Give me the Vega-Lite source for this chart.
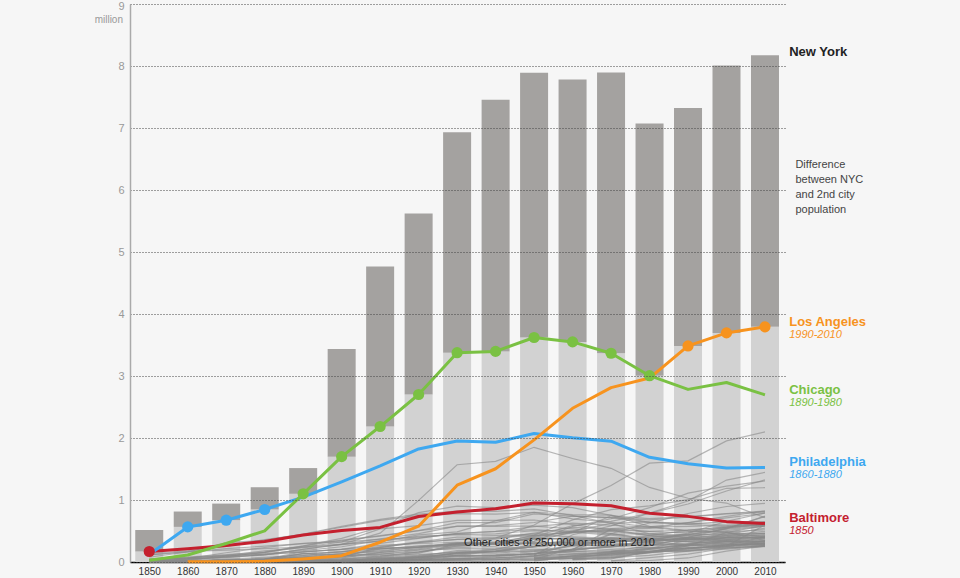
{
"$schema":"https://vega.github.io/schema/vega-lite/v6.json",
"width":655,"height":558,"autosize":"none",
"padding":{"left":130,"top":4,"right":175,"bottom":16},
"background":"#f6f6f6",
"config":{"view":{"stroke":null},"font":"Liberation Sans"},
"datasets":{
"b":[{"yr":1850,"n":0.516,"s":0.169},{"yr":1860,"n":0.814,"s":0.566},{"yr":1870,"n":0.942,"s":0.674},{"yr":1880,"n":1.206,"s":0.847},{"yr":1890,"n":1.515,"s":1.1},{"yr":1900,"n":3.437,"s":1.699},{"yr":1910,"n":4.767,"s":2.185},{"yr":1920,"n":5.62,"s":2.702},{"yr":1930,"n":6.93,"s":3.376},{"yr":1940,"n":7.455,"s":3.397},{"yr":1950,"n":7.892,"s":3.621},{"yr":1960,"n":7.782,"s":3.55},{"yr":1970,"n":7.895,"s":3.367},{"yr":1980,"n":7.072,"s":3.005},{"yr":1990,"n":7.323,"s":3.485},{"yr":2000,"n":8.008,"s":3.695},{"yr":2010,"n":8.175,"s":3.793}],
"per":[{"c":"Los Angeles","t":"1990-2010"},{"c":"Chicago","t":"1890-1980"},{"c":"Philadelphia","t":"1860-1880"},{"c":"Baltimore","t":"1850"}],
"note":[{"k":"x"}],
"m":[
{"c":"Baltimore","yr":1850,"p":0.169},{"c":"Baltimore","yr":1860,"p":0.212},{"c":"Baltimore","yr":1870,"p":0.267},{"c":"Baltimore","yr":1880,"p":0.332},{"c":"Baltimore","yr":1890,"p":0.434},{"c":"Baltimore","yr":1900,"p":0.509},{"c":"Baltimore","yr":1910,"p":0.558},{"c":"Baltimore","yr":1920,"p":0.734},{"c":"Baltimore","yr":1930,"p":0.805},{"c":"Baltimore","yr":1940,"p":0.859},{"c":"Baltimore","yr":1950,"p":0.95},{"c":"Baltimore","yr":1960,"p":0.939},{"c":"Baltimore","yr":1970,"p":0.906},{"c":"Baltimore","yr":1980,"p":0.787},{"c":"Baltimore","yr":1990,"p":0.736},{"c":"Baltimore","yr":2000,"p":0.651},{"c":"Baltimore","yr":2010,"p":0.621},
{"c":"Philadelphia","yr":1850,"p":0.121},{"c":"Philadelphia","yr":1860,"p":0.566},{"c":"Philadelphia","yr":1870,"p":0.674},{"c":"Philadelphia","yr":1880,"p":0.847},{"c":"Philadelphia","yr":1890,"p":1.047},{"c":"Philadelphia","yr":1900,"p":1.294},{"c":"Philadelphia","yr":1910,"p":1.549},{"c":"Philadelphia","yr":1920,"p":1.824},{"c":"Philadelphia","yr":1930,"p":1.951},{"c":"Philadelphia","yr":1940,"p":1.931},{"c":"Philadelphia","yr":1950,"p":2.072},{"c":"Philadelphia","yr":1960,"p":2.003},{"c":"Philadelphia","yr":1970,"p":1.949},{"c":"Philadelphia","yr":1980,"p":1.688},{"c":"Philadelphia","yr":1990,"p":1.586},{"c":"Philadelphia","yr":2000,"p":1.518},{"c":"Philadelphia","yr":2010,"p":1.526},
{"c":"Chicago","yr":1850,"p":0.03},{"c":"Chicago","yr":1860,"p":0.112},{"c":"Chicago","yr":1870,"p":0.299},{"c":"Chicago","yr":1880,"p":0.503},{"c":"Chicago","yr":1890,"p":1.1},{"c":"Chicago","yr":1900,"p":1.699},{"c":"Chicago","yr":1910,"p":2.185},{"c":"Chicago","yr":1920,"p":2.702},{"c":"Chicago","yr":1930,"p":3.376},{"c":"Chicago","yr":1940,"p":3.397},{"c":"Chicago","yr":1950,"p":3.621},{"c":"Chicago","yr":1960,"p":3.55},{"c":"Chicago","yr":1970,"p":3.367},{"c":"Chicago","yr":1980,"p":3.005},{"c":"Chicago","yr":1990,"p":2.784},{"c":"Chicago","yr":2000,"p":2.896},{"c":"Chicago","yr":2010,"p":2.696},
{"c":"Los Angeles","yr":1860,"p":0.004},{"c":"Los Angeles","yr":1870,"p":0.006},{"c":"Los Angeles","yr":1880,"p":0.011},{"c":"Los Angeles","yr":1890,"p":0.05},{"c":"Los Angeles","yr":1900,"p":0.102},{"c":"Los Angeles","yr":1910,"p":0.319},{"c":"Los Angeles","yr":1920,"p":0.577},{"c":"Los Angeles","yr":1930,"p":1.238},{"c":"Los Angeles","yr":1940,"p":1.504},{"c":"Los Angeles","yr":1950,"p":1.97},{"c":"Los Angeles","yr":1960,"p":2.479},{"c":"Los Angeles","yr":1970,"p":2.812},{"c":"Los Angeles","yr":1980,"p":2.967},{"c":"Los Angeles","yr":1990,"p":3.485},{"c":"Los Angeles","yr":2000,"p":3.695},{"c":"Los Angeles","yr":2010,"p":3.793}],
"o":[
{"c":"Houston","yr":1850,"p":0.002},{"c":"Houston","yr":1860,"p":0.005},{"c":"Houston","yr":1870,"p":0.009},{"c":"Houston","yr":1880,"p":0.017},{"c":"Houston","yr":1890,"p":0.028},{"c":"Houston","yr":1900,"p":0.045},{"c":"Houston","yr":1910,"p":0.079},{"c":"Houston","yr":1920,"p":0.138},{"c":"Houston","yr":1930,"p":0.292},{"c":"Houston","yr":1940,"p":0.385},{"c":"Houston","yr":1950,"p":0.596},{"c":"Houston","yr":1960,"p":0.938},{"c":"Houston","yr":1970,"p":1.233},{"c":"Houston","yr":1980,"p":1.595},{"c":"Houston","yr":1990,"p":1.631},{"c":"Houston","yr":2000,"p":1.954},{"c":"Houston","yr":2010,"p":2.099},
{"c":"Detroit","yr":1850,"p":0.021},{"c":"Detroit","yr":1860,"p":0.046},{"c":"Detroit","yr":1870,"p":0.08},{"c":"Detroit","yr":1880,"p":0.116},{"c":"Detroit","yr":1890,"p":0.206},{"c":"Detroit","yr":1900,"p":0.286},{"c":"Detroit","yr":1910,"p":0.466},{"c":"Detroit","yr":1920,"p":0.994},{"c":"Detroit","yr":1930,"p":1.569},{"c":"Detroit","yr":1940,"p":1.623},{"c":"Detroit","yr":1950,"p":1.85},{"c":"Detroit","yr":1960,"p":1.67},{"c":"Detroit","yr":1970,"p":1.511},{"c":"Detroit","yr":1980,"p":1.203},{"c":"Detroit","yr":1990,"p":1.028},{"c":"Detroit","yr":2000,"p":0.951},{"c":"Detroit","yr":2010,"p":0.714},
{"c":"Phoenix","yr":1880,"p":0.002},{"c":"Phoenix","yr":1890,"p":0.003},{"c":"Phoenix","yr":1900,"p":0.006},{"c":"Phoenix","yr":1910,"p":0.011},{"c":"Phoenix","yr":1920,"p":0.029},{"c":"Phoenix","yr":1930,"p":0.048},{"c":"Phoenix","yr":1940,"p":0.065},{"c":"Phoenix","yr":1950,"p":0.107},{"c":"Phoenix","yr":1960,"p":0.439},{"c":"Phoenix","yr":1970,"p":0.582},{"c":"Phoenix","yr":1980,"p":0.79},{"c":"Phoenix","yr":1990,"p":0.983},{"c":"Phoenix","yr":2000,"p":1.321},{"c":"Phoenix","yr":2010,"p":1.446},
{"c":"San Antonio","yr":1850,"p":0.003},{"c":"San Antonio","yr":1860,"p":0.008},{"c":"San Antonio","yr":1870,"p":0.012},{"c":"San Antonio","yr":1880,"p":0.021},{"c":"San Antonio","yr":1890,"p":0.038},{"c":"San Antonio","yr":1900,"p":0.053},{"c":"San Antonio","yr":1910,"p":0.097},{"c":"San Antonio","yr":1920,"p":0.161},{"c":"San Antonio","yr":1930,"p":0.232},{"c":"San Antonio","yr":1940,"p":0.254},{"c":"San Antonio","yr":1950,"p":0.408},{"c":"San Antonio","yr":1960,"p":0.588},{"c":"San Antonio","yr":1970,"p":0.654},{"c":"San Antonio","yr":1980,"p":0.786},{"c":"San Antonio","yr":1990,"p":0.936},{"c":"San Antonio","yr":2000,"p":1.145},{"c":"San Antonio","yr":2010,"p":1.327},
{"c":"San Diego","yr":1850,"p":0.001},{"c":"San Diego","yr":1860,"p":0.001},{"c":"San Diego","yr":1870,"p":0.002},{"c":"San Diego","yr":1880,"p":0.003},{"c":"San Diego","yr":1890,"p":0.016},{"c":"San Diego","yr":1900,"p":0.018},{"c":"San Diego","yr":1910,"p":0.04},{"c":"San Diego","yr":1920,"p":0.074},{"c":"San Diego","yr":1930,"p":0.148},{"c":"San Diego","yr":1940,"p":0.203},{"c":"San Diego","yr":1950,"p":0.334},{"c":"San Diego","yr":1960,"p":0.573},{"c":"San Diego","yr":1970,"p":0.697},{"c":"San Diego","yr":1980,"p":0.876},{"c":"San Diego","yr":1990,"p":1.111},{"c":"San Diego","yr":2000,"p":1.223},{"c":"San Diego","yr":2010,"p":1.307},
{"c":"Dallas","yr":1860,"p":0.001},{"c":"Dallas","yr":1870,"p":0.003},{"c":"Dallas","yr":1880,"p":0.01},{"c":"Dallas","yr":1890,"p":0.038},{"c":"Dallas","yr":1900,"p":0.043},{"c":"Dallas","yr":1910,"p":0.092},{"c":"Dallas","yr":1920,"p":0.159},{"c":"Dallas","yr":1930,"p":0.26},{"c":"Dallas","yr":1940,"p":0.295},{"c":"Dallas","yr":1950,"p":0.434},{"c":"Dallas","yr":1960,"p":0.68},{"c":"Dallas","yr":1970,"p":0.844},{"c":"Dallas","yr":1980,"p":0.904},{"c":"Dallas","yr":1990,"p":1.007},{"c":"Dallas","yr":2000,"p":1.189},{"c":"Dallas","yr":2010,"p":1.198},
{"c":"San Jose","yr":1850,"p":0.003},{"c":"San Jose","yr":1860,"p":0.005},{"c":"San Jose","yr":1870,"p":0.009},{"c":"San Jose","yr":1880,"p":0.013},{"c":"San Jose","yr":1890,"p":0.018},{"c":"San Jose","yr":1900,"p":0.022},{"c":"San Jose","yr":1910,"p":0.029},{"c":"San Jose","yr":1920,"p":0.04},{"c":"San Jose","yr":1930,"p":0.058},{"c":"San Jose","yr":1940,"p":0.068},{"c":"San Jose","yr":1950,"p":0.095},{"c":"San Jose","yr":1960,"p":0.204},{"c":"San Jose","yr":1970,"p":0.46},{"c":"San Jose","yr":1980,"p":0.629},{"c":"San Jose","yr":1990,"p":0.782},{"c":"San Jose","yr":2000,"p":0.895},{"c":"San Jose","yr":2010,"p":0.946},
{"c":"Jacksonville","yr":1850,"p":0.001},{"c":"Jacksonville","yr":1860,"p":0.002},{"c":"Jacksonville","yr":1870,"p":0.007},{"c":"Jacksonville","yr":1880,"p":0.008},{"c":"Jacksonville","yr":1890,"p":0.017},{"c":"Jacksonville","yr":1900,"p":0.028},{"c":"Jacksonville","yr":1910,"p":0.058},{"c":"Jacksonville","yr":1920,"p":0.092},{"c":"Jacksonville","yr":1930,"p":0.13},{"c":"Jacksonville","yr":1940,"p":0.173},{"c":"Jacksonville","yr":1950,"p":0.205},{"c":"Jacksonville","yr":1960,"p":0.201},{"c":"Jacksonville","yr":1970,"p":0.529},{"c":"Jacksonville","yr":1980,"p":0.541},{"c":"Jacksonville","yr":1990,"p":0.635},{"c":"Jacksonville","yr":2000,"p":0.736},{"c":"Jacksonville","yr":2010,"p":0.822},
{"c":"Indianapolis","yr":1850,"p":0.008},{"c":"Indianapolis","yr":1860,"p":0.019},{"c":"Indianapolis","yr":1870,"p":0.048},{"c":"Indianapolis","yr":1880,"p":0.075},{"c":"Indianapolis","yr":1890,"p":0.105},{"c":"Indianapolis","yr":1900,"p":0.169},{"c":"Indianapolis","yr":1910,"p":0.234},{"c":"Indianapolis","yr":1920,"p":0.314},{"c":"Indianapolis","yr":1930,"p":0.364},{"c":"Indianapolis","yr":1940,"p":0.387},{"c":"Indianapolis","yr":1950,"p":0.427},{"c":"Indianapolis","yr":1960,"p":0.476},{"c":"Indianapolis","yr":1970,"p":0.745},{"c":"Indianapolis","yr":1980,"p":0.701},{"c":"Indianapolis","yr":1990,"p":0.731},{"c":"Indianapolis","yr":2000,"p":0.782},{"c":"Indianapolis","yr":2010,"p":0.82},
{"c":"San Francisco","yr":1850,"p":0.035},{"c":"San Francisco","yr":1860,"p":0.057},{"c":"San Francisco","yr":1870,"p":0.149},{"c":"San Francisco","yr":1880,"p":0.234},{"c":"San Francisco","yr":1890,"p":0.299},{"c":"San Francisco","yr":1900,"p":0.343},{"c":"San Francisco","yr":1910,"p":0.417},{"c":"San Francisco","yr":1920,"p":0.507},{"c":"San Francisco","yr":1930,"p":0.634},{"c":"San Francisco","yr":1940,"p":0.635},{"c":"San Francisco","yr":1950,"p":0.775},{"c":"San Francisco","yr":1960,"p":0.74},{"c":"San Francisco","yr":1970,"p":0.716},{"c":"San Francisco","yr":1980,"p":0.679},{"c":"San Francisco","yr":1990,"p":0.724},{"c":"San Francisco","yr":2000,"p":0.777},{"c":"San Francisco","yr":2010,"p":0.805},
{"c":"Austin","yr":1850,"p":0.001},{"c":"Austin","yr":1860,"p":0.003},{"c":"Austin","yr":1870,"p":0.004},{"c":"Austin","yr":1880,"p":0.011},{"c":"Austin","yr":1890,"p":0.015},{"c":"Austin","yr":1900,"p":0.022},{"c":"Austin","yr":1910,"p":0.03},{"c":"Austin","yr":1920,"p":0.035},{"c":"Austin","yr":1930,"p":0.053},{"c":"Austin","yr":1940,"p":0.088},{"c":"Austin","yr":1950,"p":0.132},{"c":"Austin","yr":1960,"p":0.187},{"c":"Austin","yr":1970,"p":0.252},{"c":"Austin","yr":1980,"p":0.345},{"c":"Austin","yr":1990,"p":0.466},{"c":"Austin","yr":2000,"p":0.657},{"c":"Austin","yr":2010,"p":0.79},
{"c":"Columbus","yr":1850,"p":0.018},{"c":"Columbus","yr":1860,"p":0.019},{"c":"Columbus","yr":1870,"p":0.031},{"c":"Columbus","yr":1880,"p":0.052},{"c":"Columbus","yr":1890,"p":0.088},{"c":"Columbus","yr":1900,"p":0.126},{"c":"Columbus","yr":1910,"p":0.182},{"c":"Columbus","yr":1920,"p":0.237},{"c":"Columbus","yr":1930,"p":0.291},{"c":"Columbus","yr":1940,"p":0.306},{"c":"Columbus","yr":1950,"p":0.376},{"c":"Columbus","yr":1960,"p":0.471},{"c":"Columbus","yr":1970,"p":0.54},{"c":"Columbus","yr":1980,"p":0.565},{"c":"Columbus","yr":1990,"p":0.633},{"c":"Columbus","yr":2000,"p":0.711},{"c":"Columbus","yr":2010,"p":0.787},
{"c":"Fort Worth","yr":1880,"p":0.007},{"c":"Fort Worth","yr":1890,"p":0.023},{"c":"Fort Worth","yr":1900,"p":0.027},{"c":"Fort Worth","yr":1910,"p":0.073},{"c":"Fort Worth","yr":1920,"p":0.106},{"c":"Fort Worth","yr":1930,"p":0.163},{"c":"Fort Worth","yr":1940,"p":0.178},{"c":"Fort Worth","yr":1950,"p":0.279},{"c":"Fort Worth","yr":1960,"p":0.356},{"c":"Fort Worth","yr":1970,"p":0.393},{"c":"Fort Worth","yr":1980,"p":0.385},{"c":"Fort Worth","yr":1990,"p":0.448},{"c":"Fort Worth","yr":2000,"p":0.535},{"c":"Fort Worth","yr":2010,"p":0.741},
{"c":"Charlotte","yr":1850,"p":0.001},{"c":"Charlotte","yr":1860,"p":0.002},{"c":"Charlotte","yr":1870,"p":0.004},{"c":"Charlotte","yr":1880,"p":0.007},{"c":"Charlotte","yr":1890,"p":0.012},{"c":"Charlotte","yr":1900,"p":0.018},{"c":"Charlotte","yr":1910,"p":0.034},{"c":"Charlotte","yr":1920,"p":0.046},{"c":"Charlotte","yr":1930,"p":0.083},{"c":"Charlotte","yr":1940,"p":0.101},{"c":"Charlotte","yr":1950,"p":0.134},{"c":"Charlotte","yr":1960,"p":0.202},{"c":"Charlotte","yr":1970,"p":0.241},{"c":"Charlotte","yr":1980,"p":0.314},{"c":"Charlotte","yr":1990,"p":0.396},{"c":"Charlotte","yr":2000,"p":0.541},{"c":"Charlotte","yr":2010,"p":0.731},
{"c":"El Paso","yr":1880,"p":0.001},{"c":"El Paso","yr":1890,"p":0.01},{"c":"El Paso","yr":1900,"p":0.016},{"c":"El Paso","yr":1910,"p":0.039},{"c":"El Paso","yr":1920,"p":0.078},{"c":"El Paso","yr":1930,"p":0.102},{"c":"El Paso","yr":1940,"p":0.097},{"c":"El Paso","yr":1950,"p":0.13},{"c":"El Paso","yr":1960,"p":0.277},{"c":"El Paso","yr":1970,"p":0.322},{"c":"El Paso","yr":1980,"p":0.425},{"c":"El Paso","yr":1990,"p":0.515},{"c":"El Paso","yr":2000,"p":0.564},{"c":"El Paso","yr":2010,"p":0.649},
{"c":"Memphis","yr":1850,"p":0.009},{"c":"Memphis","yr":1860,"p":0.023},{"c":"Memphis","yr":1870,"p":0.04},{"c":"Memphis","yr":1880,"p":0.034},{"c":"Memphis","yr":1890,"p":0.064},{"c":"Memphis","yr":1900,"p":0.102},{"c":"Memphis","yr":1910,"p":0.131},{"c":"Memphis","yr":1920,"p":0.162},{"c":"Memphis","yr":1930,"p":0.253},{"c":"Memphis","yr":1940,"p":0.293},{"c":"Memphis","yr":1950,"p":0.396},{"c":"Memphis","yr":1960,"p":0.498},{"c":"Memphis","yr":1970,"p":0.624},{"c":"Memphis","yr":1980,"p":0.646},{"c":"Memphis","yr":1990,"p":0.61},{"c":"Memphis","yr":2000,"p":0.65},{"c":"Memphis","yr":2010,"p":0.647},
{"c":"Boston","yr":1850,"p":0.137},{"c":"Boston","yr":1860,"p":0.178},{"c":"Boston","yr":1870,"p":0.251},{"c":"Boston","yr":1880,"p":0.363},{"c":"Boston","yr":1890,"p":0.448},{"c":"Boston","yr":1900,"p":0.561},{"c":"Boston","yr":1910,"p":0.671},{"c":"Boston","yr":1920,"p":0.748},{"c":"Boston","yr":1930,"p":0.781},{"c":"Boston","yr":1940,"p":0.771},{"c":"Boston","yr":1950,"p":0.801},{"c":"Boston","yr":1960,"p":0.697},{"c":"Boston","yr":1970,"p":0.641},{"c":"Boston","yr":1980,"p":0.563},{"c":"Boston","yr":1990,"p":0.574},{"c":"Boston","yr":2000,"p":0.589},{"c":"Boston","yr":2010,"p":0.618},
{"c":"Seattle","yr":1870,"p":0.001},{"c":"Seattle","yr":1880,"p":0.004},{"c":"Seattle","yr":1890,"p":0.043},{"c":"Seattle","yr":1900,"p":0.081},{"c":"Seattle","yr":1910,"p":0.237},{"c":"Seattle","yr":1920,"p":0.315},{"c":"Seattle","yr":1930,"p":0.366},{"c":"Seattle","yr":1940,"p":0.368},{"c":"Seattle","yr":1950,"p":0.468},{"c":"Seattle","yr":1960,"p":0.557},{"c":"Seattle","yr":1970,"p":0.531},{"c":"Seattle","yr":1980,"p":0.494},{"c":"Seattle","yr":1990,"p":0.516},{"c":"Seattle","yr":2000,"p":0.563},{"c":"Seattle","yr":2010,"p":0.609},
{"c":"Denver","yr":1860,"p":0.005},{"c":"Denver","yr":1870,"p":0.005},{"c":"Denver","yr":1880,"p":0.036},{"c":"Denver","yr":1890,"p":0.107},{"c":"Denver","yr":1900,"p":0.134},{"c":"Denver","yr":1910,"p":0.213},{"c":"Denver","yr":1920,"p":0.256},{"c":"Denver","yr":1930,"p":0.288},{"c":"Denver","yr":1940,"p":0.322},{"c":"Denver","yr":1950,"p":0.416},{"c":"Denver","yr":1960,"p":0.494},{"c":"Denver","yr":1970,"p":0.515},{"c":"Denver","yr":1980,"p":0.492},{"c":"Denver","yr":1990,"p":0.468},{"c":"Denver","yr":2000,"p":0.555},{"c":"Denver","yr":2010,"p":0.6},
{"c":"Washington","yr":1850,"p":0.04},{"c":"Washington","yr":1860,"p":0.061},{"c":"Washington","yr":1870,"p":0.109},{"c":"Washington","yr":1880,"p":0.178},{"c":"Washington","yr":1890,"p":0.23},{"c":"Washington","yr":1900,"p":0.279},{"c":"Washington","yr":1910,"p":0.331},{"c":"Washington","yr":1920,"p":0.438},{"c":"Washington","yr":1930,"p":0.487},{"c":"Washington","yr":1940,"p":0.663},{"c":"Washington","yr":1950,"p":0.802},{"c":"Washington","yr":1960,"p":0.764},{"c":"Washington","yr":1970,"p":0.757},{"c":"Washington","yr":1980,"p":0.638},{"c":"Washington","yr":1990,"p":0.607},{"c":"Washington","yr":2000,"p":0.572},{"c":"Washington","yr":2010,"p":0.602},
{"c":"Nashville","yr":1850,"p":0.01},{"c":"Nashville","yr":1860,"p":0.017},{"c":"Nashville","yr":1870,"p":0.026},{"c":"Nashville","yr":1880,"p":0.043},{"c":"Nashville","yr":1890,"p":0.076},{"c":"Nashville","yr":1900,"p":0.081},{"c":"Nashville","yr":1910,"p":0.11},{"c":"Nashville","yr":1920,"p":0.118},{"c":"Nashville","yr":1930,"p":0.154},{"c":"Nashville","yr":1940,"p":0.167},{"c":"Nashville","yr":1950,"p":0.174},{"c":"Nashville","yr":1960,"p":0.171},{"c":"Nashville","yr":1970,"p":0.448},{"c":"Nashville","yr":1980,"p":0.456},{"c":"Nashville","yr":1990,"p":0.488},{"c":"Nashville","yr":2000,"p":0.546},{"c":"Nashville","yr":2010,"p":0.601},
{"c":"Louisville","yr":1850,"p":0.043},{"c":"Louisville","yr":1860,"p":0.068},{"c":"Louisville","yr":1870,"p":0.101},{"c":"Louisville","yr":1880,"p":0.124},{"c":"Louisville","yr":1890,"p":0.161},{"c":"Louisville","yr":1900,"p":0.205},{"c":"Louisville","yr":1910,"p":0.224},{"c":"Louisville","yr":1920,"p":0.235},{"c":"Louisville","yr":1930,"p":0.308},{"c":"Louisville","yr":1940,"p":0.319},{"c":"Louisville","yr":1950,"p":0.369},{"c":"Louisville","yr":1960,"p":0.391},{"c":"Louisville","yr":1970,"p":0.361},{"c":"Louisville","yr":1980,"p":0.298},{"c":"Louisville","yr":1990,"p":0.269},{"c":"Louisville","yr":2000,"p":0.256},{"c":"Louisville","yr":2010,"p":0.597},
{"c":"Milwaukee","yr":1850,"p":0.02},{"c":"Milwaukee","yr":1860,"p":0.045},{"c":"Milwaukee","yr":1870,"p":0.071},{"c":"Milwaukee","yr":1880,"p":0.116},{"c":"Milwaukee","yr":1890,"p":0.204},{"c":"Milwaukee","yr":1900,"p":0.285},{"c":"Milwaukee","yr":1910,"p":0.374},{"c":"Milwaukee","yr":1920,"p":0.457},{"c":"Milwaukee","yr":1930,"p":0.578},{"c":"Milwaukee","yr":1940,"p":0.587},{"c":"Milwaukee","yr":1950,"p":0.637},{"c":"Milwaukee","yr":1960,"p":0.741},{"c":"Milwaukee","yr":1970,"p":0.717},{"c":"Milwaukee","yr":1980,"p":0.636},{"c":"Milwaukee","yr":1990,"p":0.628},{"c":"Milwaukee","yr":2000,"p":0.597},{"c":"Milwaukee","yr":2010,"p":0.595},
{"c":"Portland","yr":1850,"p":0.001},{"c":"Portland","yr":1860,"p":0.003},{"c":"Portland","yr":1870,"p":0.008},{"c":"Portland","yr":1880,"p":0.018},{"c":"Portland","yr":1890,"p":0.046},{"c":"Portland","yr":1900,"p":0.09},{"c":"Portland","yr":1910,"p":0.207},{"c":"Portland","yr":1920,"p":0.258},{"c":"Portland","yr":1930,"p":0.302},{"c":"Portland","yr":1940,"p":0.305},{"c":"Portland","yr":1950,"p":0.374},{"c":"Portland","yr":1960,"p":0.373},{"c":"Portland","yr":1970,"p":0.383},{"c":"Portland","yr":1980,"p":0.366},{"c":"Portland","yr":1990,"p":0.437},{"c":"Portland","yr":2000,"p":0.529},{"c":"Portland","yr":2010,"p":0.584},
{"c":"Las Vegas","yr":1910,"p":0.001},{"c":"Las Vegas","yr":1920,"p":0.002},{"c":"Las Vegas","yr":1930,"p":0.005},{"c":"Las Vegas","yr":1940,"p":0.008},{"c":"Las Vegas","yr":1950,"p":0.025},{"c":"Las Vegas","yr":1960,"p":0.064},{"c":"Las Vegas","yr":1970,"p":0.126},{"c":"Las Vegas","yr":1980,"p":0.165},{"c":"Las Vegas","yr":1990,"p":0.258},{"c":"Las Vegas","yr":2000,"p":0.478},{"c":"Las Vegas","yr":2010,"p":0.584},
{"c":"Oklahoma City","yr":1890,"p":0.004},{"c":"Oklahoma City","yr":1900,"p":0.01},{"c":"Oklahoma City","yr":1910,"p":0.064},{"c":"Oklahoma City","yr":1920,"p":0.091},{"c":"Oklahoma City","yr":1930,"p":0.185},{"c":"Oklahoma City","yr":1940,"p":0.204},{"c":"Oklahoma City","yr":1950,"p":0.244},{"c":"Oklahoma City","yr":1960,"p":0.324},{"c":"Oklahoma City","yr":1970,"p":0.366},{"c":"Oklahoma City","yr":1980,"p":0.404},{"c":"Oklahoma City","yr":1990,"p":0.445},{"c":"Oklahoma City","yr":2000,"p":0.506},{"c":"Oklahoma City","yr":2010,"p":0.58},
{"c":"Albuquerque","yr":1880,"p":0.002},{"c":"Albuquerque","yr":1890,"p":0.004},{"c":"Albuquerque","yr":1900,"p":0.006},{"c":"Albuquerque","yr":1910,"p":0.011},{"c":"Albuquerque","yr":1920,"p":0.015},{"c":"Albuquerque","yr":1930,"p":0.027},{"c":"Albuquerque","yr":1940,"p":0.035},{"c":"Albuquerque","yr":1950,"p":0.097},{"c":"Albuquerque","yr":1960,"p":0.201},{"c":"Albuquerque","yr":1970,"p":0.245},{"c":"Albuquerque","yr":1980,"p":0.333},{"c":"Albuquerque","yr":1990,"p":0.385},{"c":"Albuquerque","yr":2000,"p":0.449},{"c":"Albuquerque","yr":2010,"p":0.546},
{"c":"Tucson","yr":1880,"p":0.007},{"c":"Tucson","yr":1890,"p":0.005},{"c":"Tucson","yr":1900,"p":0.008},{"c":"Tucson","yr":1910,"p":0.013},{"c":"Tucson","yr":1920,"p":0.02},{"c":"Tucson","yr":1930,"p":0.033},{"c":"Tucson","yr":1940,"p":0.036},{"c":"Tucson","yr":1950,"p":0.045},{"c":"Tucson","yr":1960,"p":0.213},{"c":"Tucson","yr":1970,"p":0.263},{"c":"Tucson","yr":1980,"p":0.331},{"c":"Tucson","yr":1990,"p":0.405},{"c":"Tucson","yr":2000,"p":0.487},{"c":"Tucson","yr":2010,"p":0.52},
{"c":"Fresno","yr":1890,"p":0.011},{"c":"Fresno","yr":1900,"p":0.012},{"c":"Fresno","yr":1910,"p":0.025},{"c":"Fresno","yr":1920,"p":0.045},{"c":"Fresno","yr":1930,"p":0.053},{"c":"Fresno","yr":1940,"p":0.061},{"c":"Fresno","yr":1950,"p":0.092},{"c":"Fresno","yr":1960,"p":0.134},{"c":"Fresno","yr":1970,"p":0.166},{"c":"Fresno","yr":1980,"p":0.218},{"c":"Fresno","yr":1990,"p":0.354},{"c":"Fresno","yr":2000,"p":0.428},{"c":"Fresno","yr":2010,"p":0.495},
{"c":"Sacramento","yr":1850,"p":0.007},{"c":"Sacramento","yr":1860,"p":0.014},{"c":"Sacramento","yr":1870,"p":0.016},{"c":"Sacramento","yr":1880,"p":0.021},{"c":"Sacramento","yr":1890,"p":0.026},{"c":"Sacramento","yr":1900,"p":0.029},{"c":"Sacramento","yr":1910,"p":0.045},{"c":"Sacramento","yr":1920,"p":0.066},{"c":"Sacramento","yr":1930,"p":0.094},{"c":"Sacramento","yr":1940,"p":0.106},{"c":"Sacramento","yr":1950,"p":0.138},{"c":"Sacramento","yr":1960,"p":0.192},{"c":"Sacramento","yr":1970,"p":0.257},{"c":"Sacramento","yr":1980,"p":0.276},{"c":"Sacramento","yr":1990,"p":0.369},{"c":"Sacramento","yr":2000,"p":0.407},{"c":"Sacramento","yr":2010,"p":0.466},
{"c":"Long Beach","yr":1900,"p":0.002},{"c":"Long Beach","yr":1910,"p":0.018},{"c":"Long Beach","yr":1920,"p":0.056},{"c":"Long Beach","yr":1930,"p":0.142},{"c":"Long Beach","yr":1940,"p":0.164},{"c":"Long Beach","yr":1950,"p":0.251},{"c":"Long Beach","yr":1960,"p":0.344},{"c":"Long Beach","yr":1970,"p":0.359},{"c":"Long Beach","yr":1980,"p":0.361},{"c":"Long Beach","yr":1990,"p":0.429},{"c":"Long Beach","yr":2000,"p":0.462},{"c":"Long Beach","yr":2010,"p":0.462},
{"c":"Kansas City","yr":1860,"p":0.004},{"c":"Kansas City","yr":1870,"p":0.032},{"c":"Kansas City","yr":1880,"p":0.056},{"c":"Kansas City","yr":1890,"p":0.133},{"c":"Kansas City","yr":1900,"p":0.164},{"c":"Kansas City","yr":1910,"p":0.248},{"c":"Kansas City","yr":1920,"p":0.324},{"c":"Kansas City","yr":1930,"p":0.4},{"c":"Kansas City","yr":1940,"p":0.399},{"c":"Kansas City","yr":1950,"p":0.457},{"c":"Kansas City","yr":1960,"p":0.476},{"c":"Kansas City","yr":1970,"p":0.507},{"c":"Kansas City","yr":1980,"p":0.448},{"c":"Kansas City","yr":1990,"p":0.435},{"c":"Kansas City","yr":2000,"p":0.442},{"c":"Kansas City","yr":2010,"p":0.46},
{"c":"Mesa","yr":1960,"p":0.034},{"c":"Mesa","yr":1970,"p":0.063},{"c":"Mesa","yr":1980,"p":0.152},{"c":"Mesa","yr":1990,"p":0.288},{"c":"Mesa","yr":2000,"p":0.396},{"c":"Mesa","yr":2010,"p":0.439},
{"c":"Virginia Beach","yr":1970,"p":0.172},{"c":"Virginia Beach","yr":1980,"p":0.262},{"c":"Virginia Beach","yr":1990,"p":0.393},{"c":"Virginia Beach","yr":2000,"p":0.425},{"c":"Virginia Beach","yr":2010,"p":0.438},
{"c":"Atlanta","yr":1850,"p":0.003},{"c":"Atlanta","yr":1860,"p":0.01},{"c":"Atlanta","yr":1870,"p":0.022},{"c":"Atlanta","yr":1880,"p":0.037},{"c":"Atlanta","yr":1890,"p":0.066},{"c":"Atlanta","yr":1900,"p":0.09},{"c":"Atlanta","yr":1910,"p":0.155},{"c":"Atlanta","yr":1920,"p":0.201},{"c":"Atlanta","yr":1930,"p":0.27},{"c":"Atlanta","yr":1940,"p":0.302},{"c":"Atlanta","yr":1950,"p":0.331},{"c":"Atlanta","yr":1960,"p":0.487},{"c":"Atlanta","yr":1970,"p":0.497},{"c":"Atlanta","yr":1980,"p":0.425},{"c":"Atlanta","yr":1990,"p":0.394},{"c":"Atlanta","yr":2000,"p":0.416},{"c":"Atlanta","yr":2010,"p":0.42},
{"c":"Colorado Springs","yr":1880,"p":0.004},{"c":"Colorado Springs","yr":1890,"p":0.011},{"c":"Colorado Springs","yr":1900,"p":0.021},{"c":"Colorado Springs","yr":1910,"p":0.029},{"c":"Colorado Springs","yr":1920,"p":0.03},{"c":"Colorado Springs","yr":1930,"p":0.033},{"c":"Colorado Springs","yr":1940,"p":0.036},{"c":"Colorado Springs","yr":1950,"p":0.045},{"c":"Colorado Springs","yr":1960,"p":0.07},{"c":"Colorado Springs","yr":1970,"p":0.135},{"c":"Colorado Springs","yr":1980,"p":0.215},{"c":"Colorado Springs","yr":1990,"p":0.281},{"c":"Colorado Springs","yr":2000,"p":0.361},{"c":"Colorado Springs","yr":2010,"p":0.416},
{"c":"Omaha","yr":1860,"p":0.002},{"c":"Omaha","yr":1870,"p":0.016},{"c":"Omaha","yr":1880,"p":0.031},{"c":"Omaha","yr":1890,"p":0.14},{"c":"Omaha","yr":1900,"p":0.103},{"c":"Omaha","yr":1910,"p":0.124},{"c":"Omaha","yr":1920,"p":0.192},{"c":"Omaha","yr":1930,"p":0.214},{"c":"Omaha","yr":1940,"p":0.224},{"c":"Omaha","yr":1950,"p":0.251},{"c":"Omaha","yr":1960,"p":0.302},{"c":"Omaha","yr":1970,"p":0.347},{"c":"Omaha","yr":1980,"p":0.314},{"c":"Omaha","yr":1990,"p":0.336},{"c":"Omaha","yr":2000,"p":0.39},{"c":"Omaha","yr":2010,"p":0.409},
{"c":"Raleigh","yr":1850,"p":0.005},{"c":"Raleigh","yr":1860,"p":0.005},{"c":"Raleigh","yr":1870,"p":0.008},{"c":"Raleigh","yr":1880,"p":0.009},{"c":"Raleigh","yr":1890,"p":0.013},{"c":"Raleigh","yr":1900,"p":0.014},{"c":"Raleigh","yr":1910,"p":0.019},{"c":"Raleigh","yr":1920,"p":0.024},{"c":"Raleigh","yr":1930,"p":0.037},{"c":"Raleigh","yr":1940,"p":0.047},{"c":"Raleigh","yr":1950,"p":0.066},{"c":"Raleigh","yr":1960,"p":0.094},{"c":"Raleigh","yr":1970,"p":0.122},{"c":"Raleigh","yr":1980,"p":0.15},{"c":"Raleigh","yr":1990,"p":0.208},{"c":"Raleigh","yr":2000,"p":0.276},{"c":"Raleigh","yr":2010,"p":0.404},
{"c":"Miami","yr":1900,"p":0.002},{"c":"Miami","yr":1910,"p":0.005},{"c":"Miami","yr":1920,"p":0.03},{"c":"Miami","yr":1930,"p":0.111},{"c":"Miami","yr":1940,"p":0.172},{"c":"Miami","yr":1950,"p":0.249},{"c":"Miami","yr":1960,"p":0.292},{"c":"Miami","yr":1970,"p":0.335},{"c":"Miami","yr":1980,"p":0.347},{"c":"Miami","yr":1990,"p":0.359},{"c":"Miami","yr":2000,"p":0.362},{"c":"Miami","yr":2010,"p":0.399},
{"c":"Cleveland","yr":1850,"p":0.017},{"c":"Cleveland","yr":1860,"p":0.043},{"c":"Cleveland","yr":1870,"p":0.093},{"c":"Cleveland","yr":1880,"p":0.16},{"c":"Cleveland","yr":1890,"p":0.261},{"c":"Cleveland","yr":1900,"p":0.382},{"c":"Cleveland","yr":1910,"p":0.561},{"c":"Cleveland","yr":1920,"p":0.797},{"c":"Cleveland","yr":1930,"p":0.9},{"c":"Cleveland","yr":1940,"p":0.878},{"c":"Cleveland","yr":1950,"p":0.915},{"c":"Cleveland","yr":1960,"p":0.876},{"c":"Cleveland","yr":1970,"p":0.751},{"c":"Cleveland","yr":1980,"p":0.574},{"c":"Cleveland","yr":1990,"p":0.506},{"c":"Cleveland","yr":2000,"p":0.478},{"c":"Cleveland","yr":2010,"p":0.397},
{"c":"Tulsa","yr":1900,"p":0.001},{"c":"Tulsa","yr":1910,"p":0.018},{"c":"Tulsa","yr":1920,"p":0.072},{"c":"Tulsa","yr":1930,"p":0.141},{"c":"Tulsa","yr":1940,"p":0.142},{"c":"Tulsa","yr":1950,"p":0.183},{"c":"Tulsa","yr":1960,"p":0.262},{"c":"Tulsa","yr":1970,"p":0.33},{"c":"Tulsa","yr":1980,"p":0.361},{"c":"Tulsa","yr":1990,"p":0.367},{"c":"Tulsa","yr":2000,"p":0.393},{"c":"Tulsa","yr":2010,"p":0.392},
{"c":"Oakland","yr":1860,"p":0.002},{"c":"Oakland","yr":1870,"p":0.011},{"c":"Oakland","yr":1880,"p":0.035},{"c":"Oakland","yr":1890,"p":0.049},{"c":"Oakland","yr":1900,"p":0.067},{"c":"Oakland","yr":1910,"p":0.15},{"c":"Oakland","yr":1920,"p":0.216},{"c":"Oakland","yr":1930,"p":0.284},{"c":"Oakland","yr":1940,"p":0.302},{"c":"Oakland","yr":1950,"p":0.385},{"c":"Oakland","yr":1960,"p":0.368},{"c":"Oakland","yr":1970,"p":0.362},{"c":"Oakland","yr":1980,"p":0.339},{"c":"Oakland","yr":1990,"p":0.372},{"c":"Oakland","yr":2000,"p":0.399},{"c":"Oakland","yr":2010,"p":0.391},
{"c":"Minneapolis","yr":1860,"p":0.003},{"c":"Minneapolis","yr":1870,"p":0.013},{"c":"Minneapolis","yr":1880,"p":0.047},{"c":"Minneapolis","yr":1890,"p":0.165},{"c":"Minneapolis","yr":1900,"p":0.203},{"c":"Minneapolis","yr":1910,"p":0.301},{"c":"Minneapolis","yr":1920,"p":0.381},{"c":"Minneapolis","yr":1930,"p":0.464},{"c":"Minneapolis","yr":1940,"p":0.492},{"c":"Minneapolis","yr":1950,"p":0.522},{"c":"Minneapolis","yr":1960,"p":0.483},{"c":"Minneapolis","yr":1970,"p":0.434},{"c":"Minneapolis","yr":1980,"p":0.371},{"c":"Minneapolis","yr":1990,"p":0.368},{"c":"Minneapolis","yr":2000,"p":0.383},{"c":"Minneapolis","yr":2010,"p":0.383},
{"c":"Wichita","yr":1880,"p":0.005},{"c":"Wichita","yr":1890,"p":0.024},{"c":"Wichita","yr":1900,"p":0.025},{"c":"Wichita","yr":1910,"p":0.052},{"c":"Wichita","yr":1920,"p":0.072},{"c":"Wichita","yr":1930,"p":0.111},{"c":"Wichita","yr":1940,"p":0.115},{"c":"Wichita","yr":1950,"p":0.168},{"c":"Wichita","yr":1960,"p":0.255},{"c":"Wichita","yr":1970,"p":0.277},{"c":"Wichita","yr":1980,"p":0.279},{"c":"Wichita","yr":1990,"p":0.304},{"c":"Wichita","yr":2000,"p":0.344},{"c":"Wichita","yr":2010,"p":0.382},
{"c":"Arlington","yr":1960,"p":0.045},{"c":"Arlington","yr":1970,"p":0.09},{"c":"Arlington","yr":1980,"p":0.16},{"c":"Arlington","yr":1990,"p":0.262},{"c":"Arlington","yr":2000,"p":0.333},{"c":"Arlington","yr":2010,"p":0.365},
{"c":"New Orleans","yr":1850,"p":0.116},{"c":"New Orleans","yr":1860,"p":0.169},{"c":"New Orleans","yr":1870,"p":0.191},{"c":"New Orleans","yr":1880,"p":0.216},{"c":"New Orleans","yr":1890,"p":0.242},{"c":"New Orleans","yr":1900,"p":0.287},{"c":"New Orleans","yr":1910,"p":0.339},{"c":"New Orleans","yr":1920,"p":0.387},{"c":"New Orleans","yr":1930,"p":0.459},{"c":"New Orleans","yr":1940,"p":0.495},{"c":"New Orleans","yr":1950,"p":0.57},{"c":"New Orleans","yr":1960,"p":0.628},{"c":"New Orleans","yr":1970,"p":0.593},{"c":"New Orleans","yr":1980,"p":0.558},{"c":"New Orleans","yr":1990,"p":0.497},{"c":"New Orleans","yr":2000,"p":0.485},{"c":"New Orleans","yr":2010,"p":0.344},
{"c":"Honolulu","yr":1900,"p":0.039},{"c":"Honolulu","yr":1910,"p":0.052},{"c":"Honolulu","yr":1920,"p":0.083},{"c":"Honolulu","yr":1930,"p":0.138},{"c":"Honolulu","yr":1940,"p":0.179},{"c":"Honolulu","yr":1950,"p":0.248},{"c":"Honolulu","yr":1960,"p":0.294},{"c":"Honolulu","yr":1970,"p":0.325},{"c":"Honolulu","yr":1980,"p":0.365},{"c":"Honolulu","yr":1990,"p":0.365},{"c":"Honolulu","yr":2000,"p":0.372},{"c":"Honolulu","yr":2010,"p":0.337},
{"c":"Tampa","yr":1890,"p":0.006},{"c":"Tampa","yr":1900,"p":0.016},{"c":"Tampa","yr":1910,"p":0.038},{"c":"Tampa","yr":1920,"p":0.052},{"c":"Tampa","yr":1930,"p":0.101},{"c":"Tampa","yr":1940,"p":0.108},{"c":"Tampa","yr":1950,"p":0.125},{"c":"Tampa","yr":1960,"p":0.275},{"c":"Tampa","yr":1970,"p":0.278},{"c":"Tampa","yr":1980,"p":0.272},{"c":"Tampa","yr":1990,"p":0.28},{"c":"Tampa","yr":2000,"p":0.303},{"c":"Tampa","yr":2010,"p":0.336},
{"c":"St. Louis","yr":1850,"p":0.078},{"c":"St. Louis","yr":1860,"p":0.161},{"c":"St. Louis","yr":1870,"p":0.311},{"c":"St. Louis","yr":1880,"p":0.351},{"c":"St. Louis","yr":1890,"p":0.452},{"c":"St. Louis","yr":1900,"p":0.575},{"c":"St. Louis","yr":1910,"p":0.687},{"c":"St. Louis","yr":1920,"p":0.773},{"c":"St. Louis","yr":1930,"p":0.822},{"c":"St. Louis","yr":1940,"p":0.816},{"c":"St. Louis","yr":1950,"p":0.857},{"c":"St. Louis","yr":1960,"p":0.75},{"c":"St. Louis","yr":1970,"p":0.622},{"c":"St. Louis","yr":1980,"p":0.453},{"c":"St. Louis","yr":1990,"p":0.397},{"c":"St. Louis","yr":2000,"p":0.348},{"c":"St. Louis","yr":2010,"p":0.319},
{"c":"Pittsburgh","yr":1850,"p":0.047},{"c":"Pittsburgh","yr":1860,"p":0.049},{"c":"Pittsburgh","yr":1870,"p":0.086},{"c":"Pittsburgh","yr":1880,"p":0.156},{"c":"Pittsburgh","yr":1890,"p":0.239},{"c":"Pittsburgh","yr":1900,"p":0.322},{"c":"Pittsburgh","yr":1910,"p":0.534},{"c":"Pittsburgh","yr":1920,"p":0.588},{"c":"Pittsburgh","yr":1930,"p":0.67},{"c":"Pittsburgh","yr":1940,"p":0.672},{"c":"Pittsburgh","yr":1950,"p":0.677},{"c":"Pittsburgh","yr":1960,"p":0.604},{"c":"Pittsburgh","yr":1970,"p":0.52},{"c":"Pittsburgh","yr":1980,"p":0.424},{"c":"Pittsburgh","yr":1990,"p":0.37},{"c":"Pittsburgh","yr":2000,"p":0.335},{"c":"Pittsburgh","yr":2010,"p":0.306},
{"c":"Cincinnati","yr":1850,"p":0.115},{"c":"Cincinnati","yr":1860,"p":0.161},{"c":"Cincinnati","yr":1870,"p":0.216},{"c":"Cincinnati","yr":1880,"p":0.255},{"c":"Cincinnati","yr":1890,"p":0.297},{"c":"Cincinnati","yr":1900,"p":0.326},{"c":"Cincinnati","yr":1910,"p":0.364},{"c":"Cincinnati","yr":1920,"p":0.401},{"c":"Cincinnati","yr":1930,"p":0.451},{"c":"Cincinnati","yr":1940,"p":0.456},{"c":"Cincinnati","yr":1950,"p":0.504},{"c":"Cincinnati","yr":1960,"p":0.503},{"c":"Cincinnati","yr":1970,"p":0.453},{"c":"Cincinnati","yr":1980,"p":0.385},{"c":"Cincinnati","yr":1990,"p":0.364},{"c":"Cincinnati","yr":2000,"p":0.331},{"c":"Cincinnati","yr":2010,"p":0.297},
{"c":"Toledo","yr":1850,"p":0.004},{"c":"Toledo","yr":1860,"p":0.014},{"c":"Toledo","yr":1870,"p":0.032},{"c":"Toledo","yr":1880,"p":0.05},{"c":"Toledo","yr":1890,"p":0.081},{"c":"Toledo","yr":1900,"p":0.132},{"c":"Toledo","yr":1910,"p":0.168},{"c":"Toledo","yr":1920,"p":0.243},{"c":"Toledo","yr":1930,"p":0.291},{"c":"Toledo","yr":1940,"p":0.282},{"c":"Toledo","yr":1950,"p":0.304},{"c":"Toledo","yr":1960,"p":0.318},{"c":"Toledo","yr":1970,"p":0.384},{"c":"Toledo","yr":1980,"p":0.355},{"c":"Toledo","yr":1990,"p":0.333},{"c":"Toledo","yr":2000,"p":0.314},{"c":"Toledo","yr":2010,"p":0.287},
{"c":"St. Paul","yr":1850,"p":0.001},{"c":"St. Paul","yr":1860,"p":0.01},{"c":"St. Paul","yr":1870,"p":0.02},{"c":"St. Paul","yr":1880,"p":0.041},{"c":"St. Paul","yr":1890,"p":0.133},{"c":"St. Paul","yr":1900,"p":0.163},{"c":"St. Paul","yr":1910,"p":0.215},{"c":"St. Paul","yr":1920,"p":0.235},{"c":"St. Paul","yr":1930,"p":0.272},{"c":"St. Paul","yr":1940,"p":0.288},{"c":"St. Paul","yr":1950,"p":0.311},{"c":"St. Paul","yr":1960,"p":0.313},{"c":"St. Paul","yr":1970,"p":0.31},{"c":"St. Paul","yr":1980,"p":0.27},{"c":"St. Paul","yr":1990,"p":0.272},{"c":"St. Paul","yr":2000,"p":0.287},{"c":"St. Paul","yr":2010,"p":0.285},
{"c":"Newark","yr":1850,"p":0.039},{"c":"Newark","yr":1860,"p":0.072},{"c":"Newark","yr":1870,"p":0.105},{"c":"Newark","yr":1880,"p":0.137},{"c":"Newark","yr":1890,"p":0.182},{"c":"Newark","yr":1900,"p":0.246},{"c":"Newark","yr":1910,"p":0.347},{"c":"Newark","yr":1920,"p":0.415},{"c":"Newark","yr":1930,"p":0.442},{"c":"Newark","yr":1940,"p":0.43},{"c":"Newark","yr":1950,"p":0.439},{"c":"Newark","yr":1960,"p":0.405},{"c":"Newark","yr":1970,"p":0.382},{"c":"Newark","yr":1980,"p":0.329},{"c":"Newark","yr":1990,"p":0.275},{"c":"Newark","yr":2000,"p":0.274},{"c":"Newark","yr":2010,"p":0.277},
{"c":"Buffalo","yr":1850,"p":0.042},{"c":"Buffalo","yr":1860,"p":0.081},{"c":"Buffalo","yr":1870,"p":0.118},{"c":"Buffalo","yr":1880,"p":0.155},{"c":"Buffalo","yr":1890,"p":0.256},{"c":"Buffalo","yr":1900,"p":0.352},{"c":"Buffalo","yr":1910,"p":0.424},{"c":"Buffalo","yr":1920,"p":0.507},{"c":"Buffalo","yr":1930,"p":0.573},{"c":"Buffalo","yr":1940,"p":0.576},{"c":"Buffalo","yr":1950,"p":0.58},{"c":"Buffalo","yr":1960,"p":0.533},{"c":"Buffalo","yr":1970,"p":0.463},{"c":"Buffalo","yr":1980,"p":0.358},{"c":"Buffalo","yr":1990,"p":0.328},{"c":"Buffalo","yr":2000,"p":0.293},{"c":"Buffalo","yr":2010,"p":0.261},
{"c":"Jersey City","yr":1850,"p":0.007},{"c":"Jersey City","yr":1860,"p":0.029},{"c":"Jersey City","yr":1870,"p":0.083},{"c":"Jersey City","yr":1880,"p":0.121},{"c":"Jersey City","yr":1890,"p":0.163},{"c":"Jersey City","yr":1900,"p":0.206},{"c":"Jersey City","yr":1910,"p":0.268},{"c":"Jersey City","yr":1920,"p":0.298},{"c":"Jersey City","yr":1930,"p":0.317},{"c":"Jersey City","yr":1940,"p":0.301},{"c":"Jersey City","yr":1950,"p":0.299},{"c":"Jersey City","yr":1960,"p":0.276},{"c":"Jersey City","yr":1970,"p":0.26},{"c":"Jersey City","yr":1980,"p":0.224},{"c":"Jersey City","yr":1990,"p":0.229},{"c":"Jersey City","yr":2000,"p":0.24},{"c":"Jersey City","yr":2010,"p":0.248},
{"c":"Corpus Christi","yr":1950,"p":0.108},{"c":"Corpus Christi","yr":1960,"p":0.168},{"c":"Corpus Christi","yr":1970,"p":0.205},{"c":"Corpus Christi","yr":1980,"p":0.232},{"c":"Corpus Christi","yr":1990,"p":0.257},{"c":"Corpus Christi","yr":2000,"p":0.277},{"c":"Corpus Christi","yr":2010,"p":0.305},
{"c":"Anaheim","yr":1950,"p":0.015},{"c":"Anaheim","yr":1960,"p":0.104},{"c":"Anaheim","yr":1970,"p":0.166},{"c":"Anaheim","yr":1980,"p":0.219},{"c":"Anaheim","yr":1990,"p":0.266},{"c":"Anaheim","yr":2000,"p":0.328},{"c":"Anaheim","yr":2010,"p":0.336},
{"c":"Santa Ana","yr":1950,"p":0.045},{"c":"Santa Ana","yr":1960,"p":0.1},{"c":"Santa Ana","yr":1970,"p":0.156},{"c":"Santa Ana","yr":1980,"p":0.204},{"c":"Santa Ana","yr":1990,"p":0.294},{"c":"Santa Ana","yr":2000,"p":0.338},{"c":"Santa Ana","yr":2010,"p":0.325},
{"c":"Riverside","yr":1950,"p":0.047},{"c":"Riverside","yr":1960,"p":0.084},{"c":"Riverside","yr":1970,"p":0.14},{"c":"Riverside","yr":1980,"p":0.171},{"c":"Riverside","yr":1990,"p":0.227},{"c":"Riverside","yr":2000,"p":0.255},{"c":"Riverside","yr":2010,"p":0.304},
{"c":"Bakersfield","yr":1950,"p":0.035},{"c":"Bakersfield","yr":1960,"p":0.056},{"c":"Bakersfield","yr":1970,"p":0.07},{"c":"Bakersfield","yr":1980,"p":0.106},{"c":"Bakersfield","yr":1990,"p":0.175},{"c":"Bakersfield","yr":2000,"p":0.247},{"c":"Bakersfield","yr":2010,"p":0.347},
{"c":"Aurora","yr":1960,"p":0.048},{"c":"Aurora","yr":1970,"p":0.075},{"c":"Aurora","yr":1980,"p":0.159},{"c":"Aurora","yr":1990,"p":0.222},{"c":"Aurora","yr":2000,"p":0.276},{"c":"Aurora","yr":2010,"p":0.325},
{"c":"Lexington","yr":1950,"p":0.056},{"c":"Lexington","yr":1960,"p":0.063},{"c":"Lexington","yr":1970,"p":0.108},{"c":"Lexington","yr":1980,"p":0.204},{"c":"Lexington","yr":1990,"p":0.225},{"c":"Lexington","yr":2000,"p":0.261},{"c":"Lexington","yr":2010,"p":0.296},
{"c":"Anchorage","yr":1960,"p":0.044},{"c":"Anchorage","yr":1970,"p":0.048},{"c":"Anchorage","yr":1980,"p":0.174},{"c":"Anchorage","yr":1990,"p":0.226},{"c":"Anchorage","yr":2000,"p":0.26},{"c":"Anchorage","yr":2010,"p":0.292},
{"c":"Stockton","yr":1950,"p":0.071},{"c":"Stockton","yr":1960,"p":0.086},{"c":"Stockton","yr":1970,"p":0.11},{"c":"Stockton","yr":1980,"p":0.15},{"c":"Stockton","yr":1990,"p":0.211},{"c":"Stockton","yr":2000,"p":0.244},{"c":"Stockton","yr":2010,"p":0.292},
{"c":"Greensboro","yr":1950,"p":0.074},{"c":"Greensboro","yr":1960,"p":0.12},{"c":"Greensboro","yr":1970,"p":0.144},{"c":"Greensboro","yr":1980,"p":0.156},{"c":"Greensboro","yr":1990,"p":0.184},{"c":"Greensboro","yr":2000,"p":0.224},{"c":"Greensboro","yr":2010,"p":0.27},
{"c":"Plano","yr":1970,"p":0.018},{"c":"Plano","yr":1980,"p":0.072},{"c":"Plano","yr":1990,"p":0.128},{"c":"Plano","yr":2000,"p":0.222},{"c":"Plano","yr":2010,"p":0.26},
{"c":"Lincoln","yr":1950,"p":0.099},{"c":"Lincoln","yr":1960,"p":0.129},{"c":"Lincoln","yr":1970,"p":0.15},{"c":"Lincoln","yr":1980,"p":0.172},{"c":"Lincoln","yr":1990,"p":0.192},{"c":"Lincoln","yr":2000,"p":0.226},{"c":"Lincoln","yr":2010,"p":0.258},
{"c":"Henderson","yr":1970,"p":0.016},{"c":"Henderson","yr":1980,"p":0.024},{"c":"Henderson","yr":1990,"p":0.065},{"c":"Henderson","yr":2000,"p":0.175},{"c":"Henderson","yr":2010,"p":0.257},
{"c":"Fort Wayne","yr":1950,"p":0.134},{"c":"Fort Wayne","yr":1960,"p":0.162},{"c":"Fort Wayne","yr":1970,"p":0.178},{"c":"Fort Wayne","yr":1980,"p":0.172},{"c":"Fort Wayne","yr":1990,"p":0.173},{"c":"Fort Wayne","yr":2000,"p":0.206},{"c":"Fort Wayne","yr":2010,"p":0.254}]
},
"layer":[
{"data":{"name":"b"},"mark":{"type":"bar","size":28,"color":"#d2d2d2"},
 "encoding":{
  "x":{"field":"yr","type":"quantitative","title":null,"scale":{"domain":[1845,2015.2],"nice":false,"zero":false,"padding":0},
   "axis":{"values":[1850,1860,1870,1880,1890,1900,1910,1920,1930,1940,1950,1960,1970,1980,1990,2000,2010],"format":"d","grid":false,"ticks":false,"domainColor":"#000","domainWidth":1.5,"labelColor":"#333","labelFontSize":10,"labelFont":"Liberation Sans","labelPadding":4,"labelFlush":false}},
  "y":{"field":"s","type":"quantitative","title":null,"scale":{"domain":[0,9],"nice":false,"zero":true,"padding":0},
   "axis":{"values":[0,1,2,3,4,5,6,7,8,9],"format":"d","grid":true,"gridDash":[1,2],"gridColor":"#444","gridWidth":1,"domainColor":"#aaa","domainWidth":1.5,"ticks":false,"labelColor":"#999","labelFontSize":11,"labelPadding":6,"labelFont":"Liberation Sans","labelOffset":{"condition":{"test":"datum.value == 9","value":2},"value":0},"zindex":1}}}},
{"data":{"name":"b"},"mark":{"type":"bar","size":28,"color":"#a4a2a0"},
 "encoding":{"x":{"field":"yr","type":"quantitative","title":null},"y":{"field":"s","type":"quantitative","title":null},"y2":{"field":"n"}}},
{"data":{"name":"o"},"mark":{"type":"line","stroke":"#888888","strokeWidth":1.2,"opacity":0.6},
 "encoding":{"x":{"field":"yr","type":"quantitative","title":null},"y":{"field":"p","type":"quantitative","title":null},"detail":{"field":"c"}}},
{"data":{"name":"m"},"mark":{"type":"line","strokeWidth":3,"strokeJoin":"round"},
 "encoding":{"x":{"field":"yr","type":"quantitative","title":null},"y":{"field":"p","type":"quantitative","title":null},
  "color":{"field":"c","type":"nominal","legend":null,"scale":{"domain":["Los Angeles","Chicago","Philadelphia","Baltimore","New York"],"range":["#f7931e","#7ac143","#3ea8f0","#c4202e","#222222"]}}}},
{"data":{"name":"m"},"transform":[{"lookup":"yr","from":{"data":{"name":"b"},"key":"yr","fields":["s"]}},{"filter":"datum.p == datum.s"}],
 "mark":{"type":"circle","size":125,"opacity":1},
 "encoding":{"x":{"field":"yr","type":"quantitative","title":null},"y":{"field":"p","type":"quantitative","title":null},"color":{"field":"c","type":"nominal","legend":null}}},
{"data":{"name":"m"},"transform":[{"filter":"datum.yr == 2010"}],
 "mark":{"type":"text","align":"left","baseline":"middle","fontSize":13,"fontWeight":"bold","dy":-5},
 "encoding":{"x":{"datum":2016.3},"y":{"field":"p","type":"quantitative","title":null},"text":{"field":"c"},"color":{"field":"c","type":"nominal","legend":null}}},
{"data":{"name":"m"},"transform":[{"filter":"datum.yr == 2010"},{"lookup":"c","from":{"data":{"name":"per"},"key":"c","fields":["t"]}}],
 "mark":{"type":"text","align":"left","baseline":"middle","fontSize":11,"fontStyle":"italic","dy":8},
 "encoding":{"x":{"datum":2016.3},"y":{"field":"p","type":"quantitative","title":null},"text":{"field":"t"},"color":{"field":"c","type":"nominal","legend":null}}},
{"data":{"name":"b"},"transform":[{"filter":"datum.yr == 2010"}],
 "mark":{"type":"text","align":"left","baseline":"middle","fontSize":13,"fontWeight":"bold","dy":-3,"color":"#222"},
 "encoding":{"x":{"datum":2016.3},"y":{"field":"n","type":"quantitative","title":null},"text":{"value":"New York"}}},
{"data":{"name":"note"},"mark":{"type":"text","align":"left","baseline":"middle","fontSize":11,"color":"#444","lineHeight":15,"text":["Difference","between NYC","and 2nd city","population"]},
 "encoding":{"x":{"datum":2017.9},"y":{"datum":6.4}}},
{"data":{"name":"note"},"mark":{"type":"text","align":"center","baseline":"middle","fontSize":11,"color":"#222","text":"Other cities of 250,000 or more in 2010"},
 "encoding":{"x":{"datum":1956.6},"y":{"datum":0.306}}},
{"data":{"name":"note"},"mark":{"type":"text","align":"right","baseline":"middle","fontSize":10,"color":"#999","text":"million","dx":-7},
 "encoding":{"x":{"datum":1845},"y":{"datum":8.74}}}
]
}
